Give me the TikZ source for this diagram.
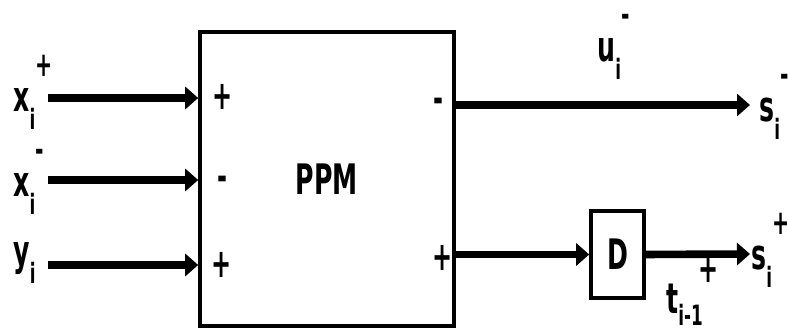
\documentclass[tikz,border=0pt]{standalone}
\usepackage{fontspec}
\setmainfont{DejaVu Sans}[FakeStretch=0.6]
\usetikzlibrary{arrows.meta}
\newcommand{\sml}{\fontsize{14}{14}\selectfont}
\newcommand{\sgn}{\fontsize{17}{17}\selectfont}
\newcommand{\sgl}[3]{#1\raisebox{-9pt}{\sml #2}\raisebox{17.5pt}{\sgn #3}}
\begin{document}
\begin{tikzpicture}[x=0.5pt,y=-0.5pt,
    font=\bfseries\fontsize{21}{24}\selectfont,
    blk/.style={draw,line width=1.8pt,inner sep=0pt},
    sig/.style={inner sep=0pt,font=\bfseries\fontsize{20}{20}\selectfont},
    lbl/.style={inner sep=0pt,anchor=base west},
    flow/.style={line width=3.8pt,-{Triangle[length=6.5pt,width=11pt]}}]
    \useasboundingbox (0,0) rectangle (788,335);
    \node[blk,minimum width=127pt,minimum height=147pt] (ppm) at (327,179) {PPM};
    \node[blk,minimum width=26.5pt,minimum height=43.5pt] (dly) at (617.5,254.5) {D};
    % inputs
    \coordinate (in1) at (48,98);
    \coordinate (in2) at (48,180);
    \coordinate (in3) at (48,265);
    \draw[flow] (in1) -- (in1 -| ppm.west);
    \draw[flow] (in2) -- (in2 -| ppm.west);
    \draw[flow] (in3) -- (in3 -| ppm.west);
    \node[lbl] (xp) at (13,112) {\sgl{x}{i}{+}};
    \node[lbl] (xm) at (13,197) {\sgl{x}{i}{-}};
    \node[lbl] (yi) at (13,266) {y\raisebox{-9pt}{\sml i}};
    \node[sig] (pa) at (223,97) {+};
    \node[sig] (ma) at (222,183) {-};
    \node[sig] (pb) at (222,265) {+};
    % outputs
    \coordinate (so) at (750,105);
    \coordinate (sp) at (750,254);
    \draw[flow] (so -| ppm.east) -- (so);
    \draw[flow] (ppm.east |- dly) -- (dly.west);
    \draw[flow] (dly.east) -- (sp);
    \node[sig] (mo) at (438,105) {-};
    \node[sig] (po) at (443,258) {+};
    \node[lbl] (ui) at (597,62) {\sgl{u}{i}{-}};
    \node[lbl] (sm) at (759,122) {\sgl{s}{i}{-}};
    \node[lbl] (spl) at (751,270) {\sgl{s}{i}{+}};
    \node[lbl] (tl) at (666,314) {t\raisebox{-6pt}{\sml i-1}};
    \node[sig] (pt) at (709,270) {+};
\end{tikzpicture}
\end{document}
